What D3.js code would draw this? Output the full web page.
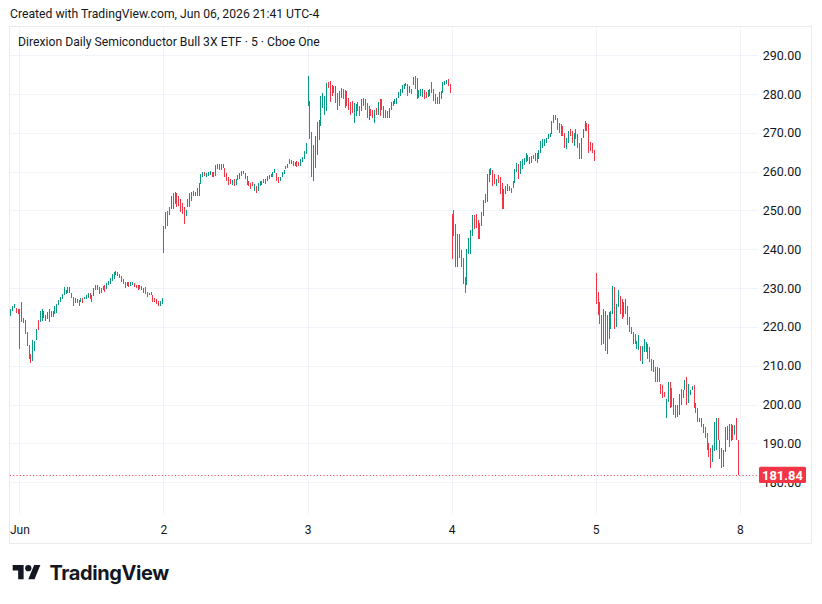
<!DOCTYPE html>
<html>
<head>
<meta charset="utf-8">
<script src="https://cdn.jsdelivr.net/npm/d3@7"></script>
<style>
  body { margin: 0; background: #fff; }
  text { font-family: Roboto, "Noto Sans", sans-serif; }
</style>
</head>
<body>
<div id="chart"></div>
<script>
// 5-minute bars, 78 per session. hi / lo per bar, dir: u = close >= open, d = close < open
const dayLabels = ["Jun", "2", "3", "4", "5", "8"];
const priceTicks = [180, 190, 200, 210, 220, 230, 240, 250, 260, 270, 280, 290];
const lastPrice = 181.84;
const BARS_PER_DAY = 78;

// tail of May 29 session
const may29Hi = [224.5, 225.3, 225.8, 224.8, 224.5];
const may29Lo = [222.7, 224.2, 224.9, 223.5, 223.3];
const may29Dir = "uuudd";

const jun1Hi = [224.5,226.3,222.3,221.7,218.7,215.4,212.9,216.7,216.5,219.5,
  221.7,224.2,224.7,224.0,223.1,223.8,224.5,224.2,224.2,225.5,
  226.0,227.0,227.7,228.5,230.2,229.6,230.2,230.4,228.8,227.7,
  227.4,227.2,227.0,227.4,227.4,227.7,228.1,228.8,228.7,228.1,
  230.0,230.7,230.7,230.2,230.0,230.5,230.7,231.3,231.9,232.5,
  233.6,234.2,234.5,234.2,233.6,233.2,232.4,231.5,231.7,231.5,
  231.5,231.7,231.3,230.8,230.7,230.7,230.5,230.0,230.2,229.0,
  228.8,229.0,228.3,227.4,227.2,226.8,226.8,227.4];
const jun1Lo = [214.4,221.2,221.1,218.2,215.0,211.8,210.7,211.1,213.7,216.7,
  219.3,221.2,221.4,222.3,221.4,222.1,221.2,222.5,222.5,223.4,
  223.6,225.7,226.4,227.2,228.1,228.4,228.8,228.8,227.4,225.5,
  226.1,226.1,225.5,226.4,226.2,227.2,227.1,227.4,227.2,226.5,
  227.9,229.6,229.4,228.5,228.8,229.6,229.1,229.8,230.7,231.1,
  231.9,232.4,233.4,233.0,232.5,231.7,231.1,230.0,230.5,230.2,
  230.5,230.8,230.2,230.0,229.6,229.8,229.4,228.8,228.5,227.7,
  228.1,228.1,226.4,226.4,226.0,225.3,225.3,226.0];
const jun1Dir = "ududdddu" + "uu" + "duuuuudduu" + "uuuuuuuudd" + "udduduuudd" +
  "uuuduuduuu" + "uuudddddud" + "uudddudddd" + "uudddduu";

const jun2Hi = [246.1,249.5,249.9,250.8,253.8,254.6,254.8,254.6,253.8,252.9,
  252.0,250.8,250.0,252.9,254.6,254.8,255.0,254.8,255.9,257.2,
  259.3,259.8,259.8,259.6,259.9,260.2,259.9,259.8,261.6,262.1,
  262.1,261.9,261.9,261.0,259.6,258.5,258.0,257.9,258.0,258.2,
  259.1,259.6,260.2,260.2,259.6,258.9,257.6,257.2,257.4,256.8,
  256.2,257.2,257.6,257.6,258.0,258.2,258.9,259.1,259.3,259.8,
  260.6,259.6,258.5,258.7,259.8,260.4,261.5,261.9,263.2,263.0,
  262.8,262.5,262.8,262.5,263.2,263.8,265.2,267.3];
const jun2Lo = [239.0,245.2,246.1,248.8,250.3,250.5,251.6,250.8,251.2,249.5,
  249.1,246.5,248.6,251.0,251.0,252.5,253.6,253.8,253.8,253.6,
  256.8,258.7,258.9,258.5,258.9,259.1,258.5,258.7,258.9,260.8,
  260.4,260.4,261.0,258.7,257.6,256.5,256.8,256.5,256.3,256.5,
  257.9,258.0,258.9,259.3,258.0,256.5,256.2,255.6,256.2,255.0,
  254.6,255.0,256.3,256.5,257.0,256.8,257.6,258.0,258.7,258.7,
  259.6,257.6,257.2,257.6,258.5,259.3,260.6,261.0,261.9,261.9,
  261.5,261.5,261.3,261.5,261.5,262.5,263.3,264.5];
const jun2Dir = "uuduuuuddd" + "dduuuuuudu" + "uuduuuduuu" + "dddddddudu" +
  "uuuudddddu" + "duuuduuuuu" + "udduuuuuud" + "dudduuuu";

const jun3Hi = [284.7,278.3,270.2,266.8,269.2,272.7,273.4,279.4,280.3,279.4,
  282.8,283.0,283.3,282.4,282.0,282.0,280.3,280.7,281.6,281.3,
  281.0,280.7,279.0,277.9,278.1,277.7,277.3,277.9,276.9,278.6,
  279.0,278.7,277.7,276.9,276.2,276.0,276.0,276.4,277.9,278.6,
  278.6,276.9,276.0,275.6,276.4,277.9,278.1,278.6,279.0,280.5,
  281.3,282.4,282.7,282.8,282.7,282.0,281.3,284.4,284.6,284.1,
  281.1,281.3,281.3,281.0,280.5,281.0,281.3,283.0,281.3,279.9,
  279.3,280.5,280.7,283.0,283.3,283.7,283.9,282.7];
const jun3Lo = [277.0,268.3,258.5,257.6,261.0,264.4,268.1,271.7,276.4,274.7,
  275.6,281.6,277.9,279.4,280.3,277.7,276.0,276.9,279.0,278.6,
  276.4,276.9,276.0,274.7,275.1,272.6,274.3,275.6,274.3,275.6,
  276.9,276.0,273.9,273.4,274.3,273.9,272.6,274.7,274.7,274.3,
  276.0,273.9,273.9,273.9,273.9,276.0,276.9,277.3,277.3,279.0,
  279.6,280.3,281.3,282.0,279.4,280.3,279.9,282.4,281.3,278.7,
  279.0,279.6,279.3,278.7,279.0,279.3,279.4,280.3,278.1,277.5,
  277.3,277.3,278.6,280.3,282.4,282.7,282.0,280.3];
const jun3Dir = "udduuuuuuu" + "udddddduud" + "ddddduuddu" + "udduddudud" +
  "dudduuuuuu" + "uuuudududd" + "uuudduuddd" + "duuuuudd";

const jun4Hi = [249.0,250.2,246.5,243.9,243.9,239.9,237.7,232.8,240.1,243.0,
  245.0,248.8,248.8,249.0,247.6,246.9,249.6,252.7,254.2,259.3,
  260.6,260.9,260.4,259.3,258.0,259.1,258.5,257.2,255.5,256.2,
  256.7,256.3,255.9,257.6,260.6,262.3,261.9,262.7,263.2,263.6,
  264.7,264.4,263.9,264.0,264.4,264.9,264.9,265.6,267.9,268.3,
  268.5,268.7,269.6,270.0,273.0,274.5,274.7,273.9,272.6,272.4,
  271.7,270.0,268.7,270.4,271.0,270.4,270.0,270.9,269.6,267.4,
  268.7,271.0,273.0,272.6,272.2,267.6,267.4,265.6];
const jun4Lo = [237.5,243.3,235.4,235.4,237.7,235.4,231.1,228.8,230.9,238.8,
  238.8,243.5,245.2,245.6,242.6,242.6,245.9,248.5,251.9,252.2,
  257.3,259.1,256.3,256.7,256.2,257.2,254.2,250.3,250.5,254.2,
  255.0,255.0,254.4,255.9,257.2,259.9,258.0,259.3,260.6,261.6,
  262.5,262.7,261.9,262.3,263.2,262.7,262.3,263.2,264.9,266.2,
  266.6,267.4,268.5,269.0,269.6,272.6,273.3,270.7,270.0,269.3,
  269.2,266.2,265.9,267.4,269.2,267.4,266.6,268.5,266.2,263.2,
  263.2,268.7,270.4,270.4,264.9,265.3,264.7,262.7];
const jun4Dir = "dddudddduu" + "uudddduuuu" + "uudduddduu" + "udduuuduuu" +
  "ududduduuu" + "uuuuuudddd" + "dduudduddd" + "uuuddddd";

const jun5Hi = [233.9,229.1,226.4,223.0,224.5,224.2,223.0,223.8,224.2,230.5,
  230.2,225.9,229.4,227.9,227.2,226.4,227.1,225.5,222.5,220.0,
  218.7,218.2,216.5,217.8,215.2,215.2,217.0,216.1,215.7,214.8,
  211.8,211.4,209.7,209.7,209.3,205.4,205.0,203.3,201.4,205.8,
  205.8,204.3,201.6,199.8,199.8,202.6,204.0,203.7,206.3,207.1,
  205.4,203.7,204.8,205.0,200.3,199.0,196.6,196.6,194.9,194.3,
  192.6,190.0,188.9,189.6,195.6,196.6,196.6,190.9,188.7,188.3,
  194.3,194.5,194.9,194.9,194.7,194.7,196.6,191.0];
const jun5Lo = [225.9,223.0,220.8,215.4,215.7,213.7,213.1,216.8,219.5,223.4,
  219.4,220.0,225.1,223.4,222.1,222.5,223.4,220.4,218.7,218.2,
  215.7,215.7,214.4,214.0,211.1,210.5,213.5,213.5,211.8,211.0,
  208.6,208.4,205.8,205.8,205.7,202.6,201.7,202.0,196.6,200.7,
  199.0,199.4,197.4,196.6,196.8,197.3,199.8,201.6,203.7,199.8,
  200.3,202.4,203.7,199.0,197.7,195.6,195.6,194.3,192.6,191.3,
  188.3,186.6,183.6,185.1,188.0,188.3,190.9,186.0,183.6,183.8,
  187.9,190.9,189.1,190.6,190.9,192.1,190.9,181.84];
const jun5Dir = "dddduduuuu" + "duudduuddd" + "uduuduuudd" + "dudddddduu" +
  "dddduuuuud" + "uuuddddddd" + "ddduuudddu" + "uudududd";

const W = 822, H = 604;
const PLOT = { LEFT: 10, RIGHT: 758, TOP: 27, BOTTOM: 515 };
const UP = "#089981", DOWN = "#f23645", GRID = "#f0f3fa", TEXT = "#131722";

// flatten into one list with a running bar index (0 = first bar of Jun 1)
const bars = [];
may29Hi.forEach((h, i) => bars.push({ k: i - may29Hi.length, hi: h, lo: may29Lo[i], dir: may29Dir[i] }));
[[jun1Hi, jun1Lo, jun1Dir], [jun2Hi, jun2Lo, jun2Dir], [jun3Hi, jun3Lo, jun3Dir],
 [jun4Hi, jun4Lo, jun4Dir], [jun5Hi, jun5Lo, jun5Dir]].forEach(([hi, lo, dir], d) => {
  hi.forEach((h, i) => bars.push({ k: d * BARS_PER_DAY + i, hi: h, lo: lo[i], dir: dir[i] }));
});

const svg = d3.select("#chart").append("svg")
  .attr("width", W).attr("height", H);

const x = d3.scaleLinear()
  .domain([0, 5 * BARS_PER_DAY])
  .range([19.4, 739.8]);
const y = d3.scaleLinear()
  .domain([180, 290])
  .range([482.2, 55.2]);

// header
svg.append("text")
  .attr("x", 10).attr("y", 18)
  .attr("font-size", 12.2).attr("fill", TEXT)
  .text("Created with TradingView.com, Jun 06, 2026 21:41 UTC-4");

// frame
svg.append("rect")
  .attr("x", 9.5).attr("y", 26.5)
  .attr("width", 802).attr("height", 517)
  .attr("fill", "none").attr("stroke", "#e9ebf0");

// grid
const grid = svg.append("g").attr("shape-rendering", "crispEdges");
grid.selectAll("line.h").data(priceTicks).enter().append("line")
  .attr("x1", PLOT.LEFT).attr("x2", PLOT.RIGHT)
  .attr("y1", d => Math.round(y(d)) + 0.5).attr("y2", d => Math.round(y(d)) + 0.5)
  .attr("stroke", GRID);
grid.selectAll("line.v").data(dayLabels).enter().append("line")
  .attr("x1", (d, i) => Math.round(x(i * BARS_PER_DAY)) + 0.5)
  .attr("x2", (d, i) => Math.round(x(i * BARS_PER_DAY)) + 0.5)
  .attr("y1", PLOT.TOP).attr("y2", PLOT.BOTTOM)
  .attr("stroke", GRID);

// legend
svg.append("text")
  .attr("x", 18).attr("y", 46)
  .attr("font-size", 12.2).attr("fill", TEXT)
  .text("Direxion Daily Semiconductor Bull 3X ETF · 5 · Cboe One");

// candles (1px wide at this zoom, wick and body merge)
svg.append("g").attr("shape-rendering", "crispEdges")
  .selectAll("rect").data(bars).enter().append("rect")
  .attr("x", d => Math.round(x(d.k)))
  .attr("y", d => y(d.hi))
  .attr("width", 1)
  .attr("height", d => Math.max(1, y(d.lo) - y(d.hi)))
  .attr("fill", d => d.dir === "u" ? UP : DOWN);

// last price line
svg.append("line")
  .attr("x1", PLOT.LEFT).attr("x2", PLOT.RIGHT)
  .attr("y1", Math.round(y(lastPrice)) + 0.5).attr("y2", Math.round(y(lastPrice)) + 0.5)
  .attr("stroke", DOWN).attr("stroke-dasharray", "1,2.3");

// price axis
const yAxis = svg.append("g")
  .attr("transform", `translate(782, 0)`)
  .call(d3.axisRight(y).tickValues(priceTicks).tickFormat(d3.format(".2f")).tickSize(0));
yAxis.select(".domain").remove();
yAxis.selectAll("text")
  .attr("x", 0).attr("text-anchor", "middle")
  .attr("font-size", 12.5).attr("fill", TEXT)
  .style("font-family", "Roboto, sans-serif");

// last price tag, drawn over the 180.00 label as in the original
svg.append("rect")
  .attr("x", 759).attr("y", y(lastPrice) - 8.3)
  .attr("width", 47).attr("height", 16.2).attr("rx", 1.5)
  .attr("fill", DOWN);
svg.append("text")
  .attr("x", 782.5).attr("y", y(lastPrice) + 4.6)
  .attr("text-anchor", "middle")
  .attr("font-size", 13).attr("font-weight", 700).attr("fill", "#fff")
  .text(lastPrice.toFixed(2));

// time axis
const xAxis = svg.append("g")
  .attr("transform", `translate(0, ${PLOT.BOTTOM})`)
  .call(d3.axisBottom(x)
    .tickValues(dayLabels.map((d, i) => i * BARS_PER_DAY))
    .tickFormat((d, i) => dayLabels[i])
    .tickSize(0));
xAxis.select(".domain").remove();
xAxis.selectAll("text")
  .attr("y", 19).attr("dy", 0)
  .attr("font-size", 12).attr("fill", TEXT)
  .style("font-family", "Roboto, sans-serif");

// TradingView logo
const logo = svg.append("g").attr("transform", "translate(12.7, 562) scale(0.78)");
logo.append("path")
  .attr("d", "M14 22H7V11H0V4h14v18zM28 22h-8l7.5-18h8L28 22z")
  .attr("fill", TEXT);
logo.append("circle").attr("cx", 20).attr("cy", 8).attr("r", 4).attr("fill", TEXT);
svg.append("text")
  .attr("x", 49.5).attr("y", 580)
  .attr("font-size", 20).attr("font-weight", 700).attr("fill", TEXT)
  .style("font-family", "Inter, sans-serif")
  .attr("letter-spacing", -0.4)
  .text("TradingView");
</script>
</body>
</html>
